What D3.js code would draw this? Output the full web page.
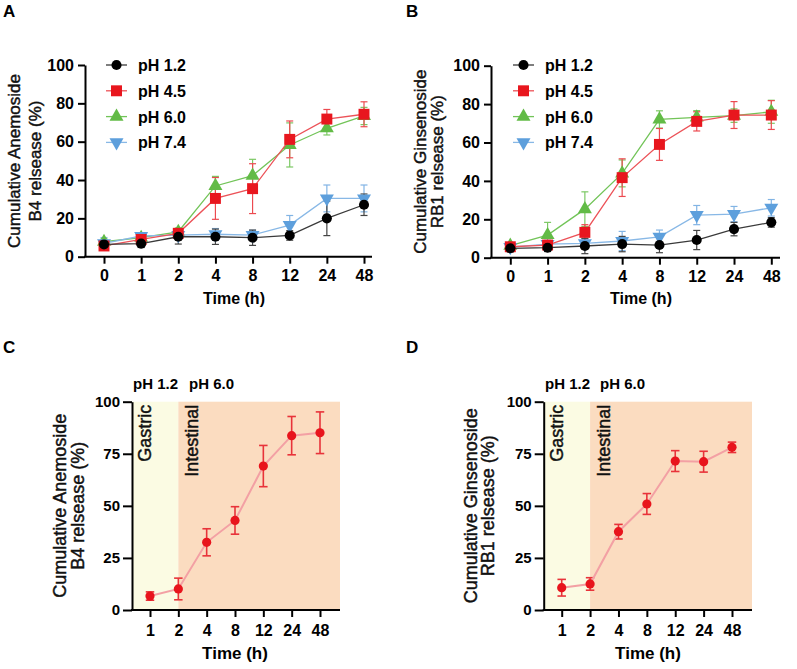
<!DOCTYPE html>
<html>
<head>
<meta charset="utf-8">
<script src="https://cdn.jsdelivr.net/npm/d3@7"></script>
<style>
  body { margin: 0; background: #fff; }
  svg { font-family: "Liberation Sans", Arial, sans-serif; }
</style>
</head>
<body>
<div id="chart"></div>
<script>
// time points (categorical axes)
const timesAB = ["0", "1", "2", "4", "8", "12", "24", "48"];
const timesCD = ["1", "2", "4", "8", "12", "24", "48"];
const seriesNames = ["pH 1.2", "pH 4.5", "pH 6.0", "pH 7.4"];
const yTicksAB = [0, 20, 40, 60, 80, 100];
const yTicksCD = [0, 25, 50, 75, 100];

// A: Anemoside B4, mean and sd per pH
const aPh12 = [6.4, 6.8, 10.4, 10.4, 9.9, 11.1, 20.0, 27.1];
const aPh12Sd = [2, 2, 3.8, 4, 4, 2.5, 9, 5.6];
const aPh45 = [5.6, 9.0, 12.2, 30.4, 35.5, 61.2, 71.8, 74.3];
const aPh45Sd = [2, 2, 2, 10.9, 13, 9.6, 5, 6.5];
const aPh60 = [7.8, 9.9, 13.0, 36.9, 42.3, 58.3, 67.0, 73.4];
const aPh60Sd = [1.5, 1.5, 2, 5, 8.5, 11.5, 3.5, 4.5];
const aPh74 = [7.0, 10.8, 11.3, 11.7, 11.3, 16.5, 30.4, 30.4];
const aPh74Sd = [3, 1.5, 1.5, 3, 2.5, 5, 7, 7];

// B: Ginsenoside RB1
const bPh12 = [4.9, 5.2, 6.1, 7.1, 6.6, 9.2, 14.9, 18.4];
const bPh12Sd = [2, 2, 4, 4, 4, 5, 3.5, 2.5];
const bPh45 = [5.7, 6.6, 13.2, 41.7, 59.0, 71.0, 74.3, 74.3];
const bPh45Sd = [1.5, 1.5, 4, 9.8, 8.3, 5, 7, 7.5];
const bPh60 = [6.3, 11.8, 25.3, 43.9, 72.0, 73.1, 74.0, 76.0];
const bPh60Sd = [1.5, 6.6, 9, 7, 4.5, 3.5, 3.5, 6];
const bPh74 = [5.5, 7.1, 7.5, 8.7, 10.9, 22.2, 22.7, 26.0];
const bPh74Sd = [1.5, 2, 2.5, 5, 3.5, 5, 4, 4.3];

// C / D: sequential gastric -> intestinal release
const cMean = [6.7, 10.1, 32.5, 43.0, 69.1, 83.7, 85.1];
const cSd = [2, 5.2, 6.5, 6.6, 9.9, 9.2, 10];
const dMean = [10.7, 12.5, 37.6, 50.9, 71.5, 71.2, 78.1];
const dSd = [4, 3, 3.5, 5, 5, 5, 2.5];

const colors = { "pH 1.2": "#000000", "pH 4.5": "#e8161e", "pH 6.0": "#62bb46", "pH 7.4": "#5d9fdc" };
const lineColors = { "pH 1.2": "#3a3a3a", "pH 4.5": "#ec5258", "pH 6.0": "#72c458", "pH 7.4": "#88b8e6" };
const errColors = { "pH 1.2": "#444444", "pH 4.5": "#ec4a50", "pH 6.0": "#7cc864", "pH 7.4": "#82b4e4" };
const symbols = {
  "pH 1.2": { type: d3.symbolCircle, size: 80, rot: 0 },
  "pH 4.5": { type: d3.symbolSquare, size: 120, rot: 0 },
  "pH 6.0": { type: d3.symbolTriangle, size: 85, rot: 0 },
  "pH 7.4": { type: d3.symbolTriangle, size: 85, rot: 180 }
};
const drawOrder = ["pH 6.0", "pH 7.4", "pH 4.5", "pH 1.2"];

const svg = d3.select("#chart").append("svg")
  .attr("width", 797).attr("height", 669);

function panelLetter(txt, x, y) {
  svg.append("text").attr("x", x).attr("y", y)
    .attr("font-size", 17).attr("font-weight", "bold").text(txt);
}

// medium-weight text: regular face, thickened a little with a stroke
function mediumText(sel) {
  return sel.attr("fill", "#111").attr("stroke", "#111").attr("stroke-width", 0.45);
}

function yTitle(lines, xs, yc, size) {
  lines.forEach((t, i) => {
    svg.append("text")
      .attr("transform", "translate(" + xs[i] + "," + yc + ") rotate(-90)")
      .attr("text-anchor", "middle")
      .attr("font-size", size)
      .call(mediumText)
      .text(t);
  });
}

function styleAxis(g, fontSize) {
  g.selectAll("path.domain").attr("stroke", "#000").attr("stroke-width", 2);
  g.selectAll(".tick line").attr("stroke", "#000").attr("stroke-width", 2);
  g.selectAll(".tick text")
    .attr("fill", "#000")
    .attr("font-size", fontSize)
    .attr("font-weight", "bold")
    .attr("font-family", "Liberation Sans, Arial, sans-serif");
}

function drawAxes(cfg, x, y) {
  const gy = svg.append("g")
    .attr("transform", "translate(" + cfg.axisX + ",0)")
    .call(d3.axisLeft(y).tickValues(cfg.yTicks).tickSize(cfg.yTickSize).tickSizeOuter(0).tickPadding(cfg.yPad));
  styleAxis(gy, cfg.yFont);

  const gx = svg.append("g")
    .attr("transform", "translate(0," + y(0) + ")")
    .call(d3.axisBottom(x).tickSize(7).tickPadding(cfg.xPad));
  gx.select("path.domain").remove();
  styleAxis(gx, cfg.xFont);
  svg.append("line")
    .attr("x1", cfg.axisX - 1).attr("x2", cfg.axisEnd)
    .attr("y1", y(0)).attr("y2", y(0))
    .attr("stroke", "#000").attr("stroke-width", 2);

  svg.append("text")
    .attr("x", cfg.titleX).attr("y", cfg.titleY)
    .attr("text-anchor", "middle")
    .attr("font-size", cfg.titleFont).attr("font-weight", "bold")
    .text("Time (h)");
}

function errorBars(g, x, y, times, mean, sd, color, capW, width) {
  const eb = g.append("g").attr("stroke", color).attr("stroke-width", width);
  times.forEach((t, i) => {
    const cx = x(t);
    const lo = y(Math.max(0, mean[i] - sd[i])), hi = y(mean[i] + sd[i]);
    eb.append("line").attr("x1", cx).attr("x2", cx).attr("y1", lo).attr("y2", hi);
    eb.append("line").attr("x1", cx - capW / 2).attr("x2", cx + capW / 2).attr("y1", lo).attr("y2", lo);
    eb.append("line").attr("x1", cx - capW / 2).attr("x2", cx + capW / 2).attr("y1", hi).attr("y2", hi);
  });
}

function symbolPath(name) {
  const s = symbols[name];
  return d3.symbol().type(s.type).size(s.size)();
}

function drawMultiPanel(cfg) {
  const x = d3.scalePoint().domain(timesAB).range(cfg.xRange);
  const y = d3.scaleLinear().domain([0, 100]).range(cfg.yRange);

  drawAxes(cfg, x, y);

  const plot = svg.append("g");
  drawOrder.forEach(name => {
    const s = cfg.series[name];
    errorBars(plot, x, y, timesAB, s.mean, s.sd, errColors[name], 7, 1.2);
  });
  drawOrder.forEach(name => {
    const s = cfg.series[name];
    const line = d3.line().x((d, i) => x(timesAB[i])).y(d => y(d));
    plot.append("path").datum(s.mean)
      .attr("d", line).attr("fill", "none")
      .attr("stroke", lineColors[name]).attr("stroke-width", 1.3);
    plot.selectAll(null).data(s.mean).enter()
      .append("path")
      .attr("d", symbolPath(name))
      .attr("transform", (d, i) => "translate(" + x(timesAB[i]) + "," + y(d) + ") rotate(" + symbols[name].rot + ")")
      .attr("fill", colors[name]);
  });

  // legend
  const lg = svg.append("g");
  seriesNames.forEach((name, i) => {
    const ly = cfg.legendY + i * 25.8;
    lg.append("line")
      .attr("x1", cfg.legendX).attr("x2", cfg.legendX + 21)
      .attr("y1", ly).attr("y2", ly)
      .attr("stroke", lineColors[name]).attr("stroke-width", 1.3);
    lg.append("path")
      .attr("d", symbolPath(name))
      .attr("transform", "translate(" + (cfg.legendX + 10.5) + "," + ly + ") rotate(" + symbols[name].rot + ")")
      .attr("fill", colors[name]);
    lg.append("text")
      .attr("x", cfg.legendX + 32).attr("y", ly + 6)
      .attr("font-size", 16).attr("font-weight", "bold")
      .text(name);
  });
}

function drawStagePanel(cfg) {
  const x = d3.scalePoint().domain(timesCD).range(cfg.xRange);
  const y = d3.scaleLinear().domain([0, 100]).range(cfg.yRange);

  // background zones
  svg.append("rect")
    .attr("x", cfg.axisX).attr("y", y(100))
    .attr("width", x("2") - cfg.axisX).attr("height", y(0) - y(100))
    .attr("fill", "#fbfbe3");
  svg.append("rect")
    .attr("x", x("2")).attr("y", y(100))
    .attr("width", cfg.axisEnd - x("2")).attr("height", y(0) - y(100))
    .attr("fill", "#fbdcc0");

  svg.append("text")
    .attr("transform", "translate(" + (cfg.axisX + 19) + "," + (y(100) + 3) + ") rotate(-90)")
    .attr("text-anchor", "end").attr("font-size", 18).call(mediumText).text("Gastric");
  svg.append("text")
    .attr("transform", "translate(" + (x("2") + 20) + "," + (y(100) + 3) + ") rotate(-90)")
    .attr("text-anchor", "end").attr("font-size", 18).call(mediumText).text("Intestinal");

  svg.append("text").attr("x", cfg.ph1X).attr("y", 389)
    .attr("font-size", 15).attr("font-weight", "bold").text("pH 1.2");
  svg.append("text").attr("x", cfg.ph2X).attr("y", 389)
    .attr("font-size", 15).attr("font-weight", "bold").text("pH 6.0");

  drawAxes(cfg, x, y);

  const plot = svg.append("g");
  errorBars(plot, x, y, timesCD, cfg.mean, cfg.sd, "#e8333a", 8.5, 1.6);
  const line = d3.line().x((d, i) => x(timesCD[i])).y(d => y(d));
  plot.append("path").datum(cfg.mean)
    .attr("d", line).attr("fill", "none")
    .attr("stroke", "#f3a0a4").attr("stroke-width", 2);
  plot.selectAll(null).data(cfg.mean).enter()
    .append("circle")
    .attr("cx", (d, i) => x(timesCD[i])).attr("cy", d => y(d))
    .attr("r", 4.6).attr("fill", "#e8141c");
}

// Panel A
panelLetter("A", 3, 17);
yTitle(["Cumulative Anemoside", "B4 relsease (%)"], [19.5, 41], 161, 17);
drawMultiPanel({
  axisX: 85, axisEnd: 372, xRange: [104, 364], yRange: [256.7, 65],
  yTicks: yTicksAB, yTickSize: 7, yPad: 4, yFont: 16, xFont: 16, xPad: 6,
  titleX: 234, titleY: 304, titleFont: 16,
  legendX: 106, legendY: 65,
  series: {
    "pH 1.2": { mean: aPh12, sd: aPh12Sd },
    "pH 4.5": { mean: aPh45, sd: aPh45Sd },
    "pH 6.0": { mean: aPh60, sd: aPh60Sd },
    "pH 7.4": { mean: aPh74, sd: aPh74Sd }
  }
});

// Panel B
panelLetter("B", 406, 17);
yTitle(["Cumulative Ginsenoside", "RB1 relsease (%)"], [426, 443], 161.7, 17);
drawMultiPanel({
  axisX: 491, axisEnd: 780, xRange: [510.3, 771.3], yRange: [257.7, 65.7],
  yTicks: yTicksAB, yTickSize: 7, yPad: 4, yFont: 16, xFont: 16, xPad: 6,
  titleX: 641, titleY: 304, titleFont: 16,
  legendX: 513, legendY: 65,
  series: {
    "pH 1.2": { mean: bPh12, sd: bPh12Sd },
    "pH 4.5": { mean: bPh45, sd: bPh45Sd },
    "pH 6.0": { mean: bPh60, sd: bPh60Sd },
    "pH 7.4": { mean: bPh74, sd: bPh74Sd }
  }
});

// Panel C
panelLetter("C", 3, 353);
yTitle(["Cumulative Anemoside", "B4 relsease (%)"], [66, 84], 505.8, 18);
drawStagePanel({
  axisX: 132, axisEnd: 340, xRange: [150, 320], yRange: [610, 401.7],
  yTicks: yTicksCD, yTickSize: 9, yPad: 3, yFont: 15, xFont: 16, xPad: 8,
  titleX: 235, titleY: 659, titleFont: 17,
  ph1X: 133, ph2X: 189,
  mean: cMean, sd: cSd
});

// Panel D
panelLetter("D", 406, 353);
yTitle(["Cumulative Ginsenoside", "RB1 relsease (%)"], [477, 494], 505.8, 18);
drawStagePanel({
  axisX: 543.7, axisEnd: 752, xRange: [561.7, 732], yRange: [610, 401.7],
  yTicks: yTicksCD, yTickSize: 9, yPad: 3, yFont: 15, xFont: 16, xPad: 8,
  titleX: 648, titleY: 659, titleFont: 17,
  ph1X: 545, ph2X: 600,
  mean: dMean, sd: dSd
});
</script>
</body>
</html>
